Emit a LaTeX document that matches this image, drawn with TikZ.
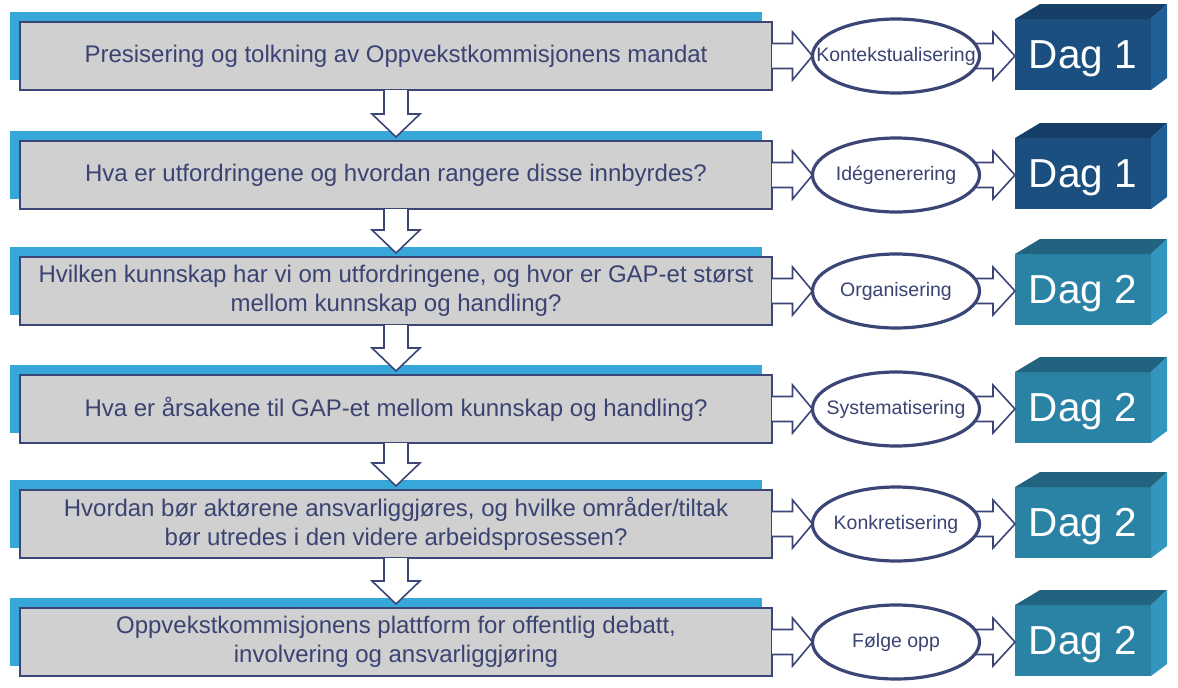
\documentclass[tikz,border=0pt]{standalone}
\usepackage{fontspec}
\setmainfont{Liberation Sans}
\usetikzlibrary{calc,shapes.geometric}
\definecolor{barblue}{HTML}{37A7D9}
\definecolor{boxgray}{HTML}{D0D0D0}
\definecolor{navy}{HTML}{3B4677}
\definecolor{txt}{HTML}{3A4372}
\definecolor{oneF}{HTML}{1A4F80}
\definecolor{oneT}{HTML}{153F66}
\definecolor{oneR}{HTML}{1F5E97}
\definecolor{twoF}{HTML}{2A82A4}
\definecolor{twoT}{HTML}{22637F}
\definecolor{twoR}{HTML}{3296BE}
\newcommand\myrow[6]{%
  \fill[barblue] (10,#2-10) rectangle (762,#2+58);
  \node[gbox] (b#1) at (20,#2) {#3};
  \node[dayface, fill=#6F] (d#1) at (1083,#2+32.5) {Dag #5};
  \fill[#6T] (d#1.north west) -- (d#1.north east) -- ++(16,-15) -- ($(d#1.north west)+(25,-15)$) -- cycle;
  \fill[#6R] (d#1.north east) -- ++(16,-15) -- ($(d#1.south east)+(16,-12)$) -- (d#1.south east) -- cycle;
  \coordinate (e#1c) at (896,#2+34);
  \node[ell, draw=none, fill=none] (e#1) at (e#1c) {};
  \draw[hollow] let \p1=(b#1.east), \p2=(e#1.west) in
    (\x1,\y1+12.5pt) -- (\x2-20pt,\y1+12.5pt) -- (\x2-20pt,\y1+24pt) -- (\x2,\y1)
    -- (\x2-20pt,\y1-24pt) -- (\x2-20pt,\y1-12.5pt) -- (\x1,\y1-12.5pt);
  \draw[hollow] let \p1=(e#1.east), \p2=(d#1.west) in
    (\x1-12pt,\y1+12.5pt) -- (\x2-22pt,\y1+12.5pt) -- (\x2-22pt,\y1+24pt) -- (\x2,\y1)
    -- (\x2-22pt,\y1-24pt) -- (\x2-22pt,\y1-12.5pt) -- (\x1-12pt,\y1-12.5pt);
  \node[ell] at (e#1c) {\makebox[0pt]{#4}};
}
\newcommand\mydown[2]{%
  \draw[hollow] let \p1=(b#1.south), \p2=(b#2.north) in
    (\x1-12pt,\y1) -- (\x1-12pt,\y2+27pt) -- (\x1-24pt,\y2+27pt) -- (\x1,\y2+4pt)
    -- (\x1+24pt,\y2+27pt) -- (\x1+12pt,\y2+27pt) -- (\x1+12pt,\y1);
}
\begin{document}
\begin{tikzpicture}[x=1pt,y=-1pt,
  gbox/.style={draw=navy, line width=1.5pt, fill=boxgray, minimum width=752pt,
    minimum height=68pt, inner sep=0pt, outer sep=0pt, text=txt,
    font=\fontsize{24}{29}\selectfont, align=center, anchor=north west},
  ell/.style={ellipse, draw=navy, line width=3.2pt, fill=white, minimum width=167pt,
    minimum height=74pt, inner sep=0pt, outer sep=0pt, text=txt,
    font=\fontsize{19.5}{21}\selectfont},
  dayface/.style={minimum width=136pt, minimum height=71pt, inner sep=0pt,
    outer sep=0pt, text=white, text depth=0pt, font=\fontsize{40.5}{42}\selectfont},
  hollow/.style={draw=navy, line width=1.6pt, fill=white, line join=miter}]
\useasboundingbox (0,0) rectangle (1178,688);
\myrow{1}{22}{Presisering og tolkning av Oppvekstkommisjonens mandat}{Kontekstualisering}{1}{one}
\myrow{2}{141}{Hva er utfordringene og hvordan rangere disse innbyrdes?}{Idégenerering}{1}{one}
\myrow{3}{257}{Hvilken kunnskap har vi om utfordringene, og hvor er GAP-et størst\\mellom kunnskap og handling?}{Organisering}{2}{two}
\myrow{4}{375}{Hva er årsakene til GAP-et mellom kunnskap og handling?}{Systematisering}{2}{two}
\myrow{5}{490}{Hvordan bør aktørene ansvarliggjøres, og hvilke områder/tiltak\\bør utredes i den videre arbeidsprosessen?}{Konkretisering}{2}{two}
\myrow{6}{608}{Oppvekstkommisjonens plattform for offentlig debatt,\\involvering og ansvarliggjøring}{Følge opp}{2}{two}
\mydown{1}{2}
\mydown{2}{3}
\mydown{3}{4}
\mydown{4}{5}
\mydown{5}{6}
\end{tikzpicture}
\end{document}
